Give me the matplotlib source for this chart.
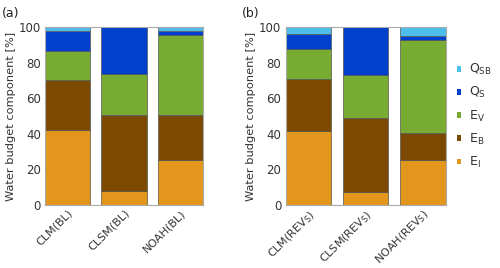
import numpy as np
import matplotlib.pyplot as plt
from matplotlib.patches import Patch

# stacked shares [%], bottom to top: E_I, E_B, E_V, Q_S, Q_SB
models_a = ['CLM(BL)', 'CLSM(BL)', 'NOAH(BL)']
models_b = [r'CLM(REV$_\mathregular{S}$)', r'CLSM(REV$_\mathregular{S}$)', r'NOAH(REV$_\mathregular{S}$)']

comp_names = [r'$\mathregular{E_I}$', r'$\mathregular{E_B}$', r'$\mathregular{E_V}$',
              r'$\mathregular{Q_S}$', r'$\mathregular{Q_{SB}}$']

vals_a = {
    'E_I':  [42.0, 7.8, 25.4],
    'E_B':  [28.3, 42.6, 25.0],
    'E_V':  [16.1, 23.5, 45.1],
    'Q_S':  [11.4, 26.1, 2.4],
    'Q_SB': [2.2, 0.0, 2.1],
}
vals_b = {
    'E_I':  [41.5, 7.3, 25.4],
    'E_B':  [29.4, 41.8, 15.2],
    'E_V':  [16.9, 24.2, 52.1],
    'Q_S':  [8.1, 26.7, 2.4],
    'Q_SB': [4.1, 0.0, 4.9],
}

colors = ['#e2961b', '#7b4a00', '#77ab31', '#0040cc', '#4dbdec']

plt.rcParams['font.family'] = 'DejaVu Sans'
plt.rcParams['mathtext.default'] = 'regular'

fig = plt.figure(figsize=(5.0, 2.68), dpi=100)
ax_a = fig.add_axes([0.09, 0.235, 0.316, 0.664])
ax_b = fig.add_axes([0.571, 0.235, 0.32, 0.664])


def draw_panel(ax, labels, vals, tag):
    x = np.arange(len(labels))
    bottom = np.zeros(len(labels))
    for key, col in zip(vals.keys(), colors):
        ax.bar(x, vals[key], 0.8, bottom=bottom, color=col,
               edgecolor='#555555', linewidth=0.5)
        bottom += np.array(vals[key])
    ax.set_xlim(-0.4, 2.4)
    ax.set_ylim(0, 100)
    ax.set_yticks([0, 20, 40, 60, 80, 100])
    ax.set_xticks(x)
    ax.set_xticklabels(labels, rotation=45, ha='right', rotation_mode='anchor',
                       fontsize=8, color='#333333')
    ax.tick_params(axis='both', length=0, labelcolor='#333333')
    ax.tick_params(axis='y', labelsize=8.5, pad=3)
    ax.tick_params(axis='x', pad=2)
    ax.set_ylabel('Water budget component [%]', fontsize=8.2, color='#333333', labelpad=2)
    for s in ax.spines.values():
        s.set_color('#aaaaaa')
        s.set_linewidth(0.8)
    ax.text(-0.275, 1.115, tag, transform=ax.transAxes, fontsize=9, color='#222222',
            va='top')


draw_panel(ax_a, models_a, vals_a, '(a)')
draw_panel(ax_b, models_b, vals_b, '(b)')

handles = [Patch(facecolor=c, edgecolor='none') for c in colors]
leg = ax_b.legend(handles[::-1], comp_names[::-1], loc='center left',
                  bbox_to_anchor=(1.0, 0.5), frameon=False, fontsize=9,
                  handlelength=0.35, handleheight=0.35, handletextpad=0.6,
                  labelspacing=0.65, labelcolor='#333333')

fig.savefig('out.png', dpi=100)
